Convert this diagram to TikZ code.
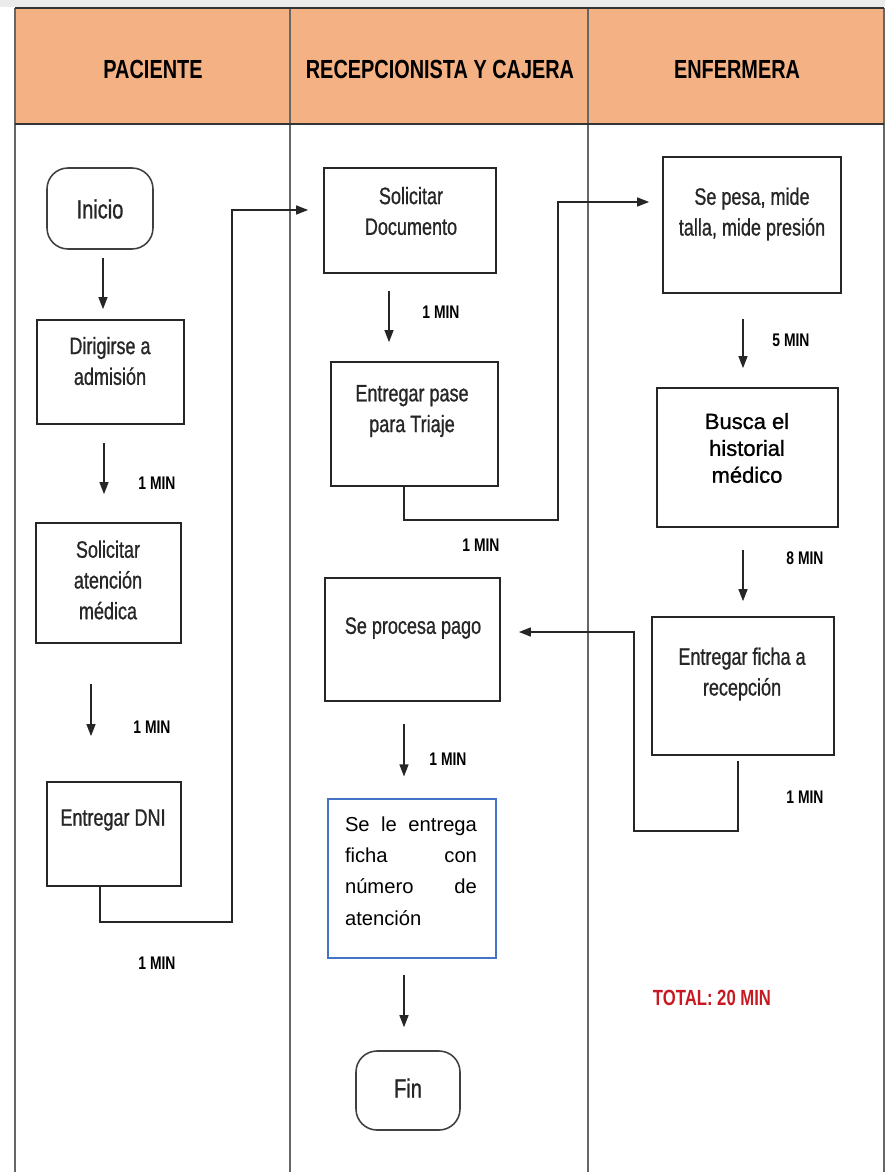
\documentclass[tikz,border=0pt]{standalone}
\usepackage{fontspec}
\setmainfont{Liberation Sans}
\newfontfamily\narrowfont[FakeStretch=0.76]{Liberation Sans}
\newfontfamily\narrowboxfont[FakeStretch=0.76,FakeBold=0.9]{Liberation Sans}
\newfontfamily\heavyfont[FakeBold=1.1]{Liberation Sans}
\usetikzlibrary{arrows.meta,fit}
\definecolor{lanehead}{HTML}{F4B183}
\definecolor{totalred}{RGB}{200,25,35}
\definecolor{boxblue}{HTML}{4472C4}

\begin{document}
\begin{tikzpicture}[x=0.02cm,y=-0.02cm,
  lane/.style={draw=black!60, line width=1.2pt},
  rule/.style={draw=black!80, line width=1.2pt},
  procbox/.style={draw=black!85, line width=1pt, inner sep=0pt},
  termbox/.style={draw=black!75, line width=0.9pt, rounded corners=0.42cm, inner sep=0pt},
  boxtext/.style={font=\narrowboxfont\fontsize{13.5}{17.5}\selectfont, text=black!85, align=center, inner sep=0pt},
  termtext/.style={font=\narrowboxfont\fontsize{15}{18}\selectfont, text=black!85, inner sep=0pt},
  headtext/.style={font=\narrowfont\bfseries\fontsize{14.9}{17}\selectfont, inner sep=0pt},
  mintext/.style={font=\narrowfont\bfseries\fontsize{10.4}{12}\selectfont, inner sep=0pt},
  tip/.style={-{Triangle[length=0.24cm,width=0.18cm]}},
  arr/.style={draw=black!85, line width=0.7pt, tip},
  conn/.style={draw=black!85, line width=0.8pt},
]
\useasboundingbox (0,0) rectangle (885,1172);

% header band and swimlane rules
\fill[black!8] (0,0) rectangle (885,7);
\fill[lanehead] (15,8) rectangle (884,124);
\foreach \lx in {15,290,588,884} \draw[lane] (\lx,8) -- (\lx,1172);
\draw[rule] (15,8) -- (884,8);
\draw[rule] (15,124) -- (884,124);

\node[headtext] (h1) at (153,69) {PACIENTE};
\node[headtext] (h2) at (440,69) {RECEPCIONISTA Y CAJERA};
\node[headtext] (h3) at (737,69) {ENFERMERA};

% PACIENTE lane
\node[termbox, fit={(47,168) (153,249)}] (ini) {};
\node[termtext] (ini-t) at (100,209) {Inicio};
\node[procbox, fit={(37,320) (184,424)}] (dir) {};
\node[boxtext] (dir-t) at (110,361) {Dirigirse a\\admisión};
\node[procbox, fit={(36,523) (181,643)}] (sol) {};
\node[boxtext] (sol-t) at (108,580) {Solicitar\\atención\\médica};
\node[procbox, fit={(47,782) (181,886)}] (dni) {};
\node[boxtext] (dni-t) at (113,820) {Entregar DNI};

% RECEPCIONISTA Y CAJERA lane
\node[procbox, fit={(324,168) (496,273)}] (sdoc) {};
\node[boxtext] (sdoc-t) at (411,211) {Solicitar\\Documento};
\node[procbox, fit={(331,362) (498,486)}] (pase) {};
\node[boxtext] (pase-t) at (412,411) {Entregar pase\\para Triaje};
\node[procbox, fit={(325,578) (500,701)}] (pago) {};
\node[boxtext] (pago-t) at (413,628) {Se procesa pago};
\node[procbox, draw=boxblue, line width=0.6pt, fit={(328,799) (496,958)}] (entr) {};
\node[font=\fontsize{11.5}{17.9}\selectfont, text width=2.64cm, align=left, inner sep=0pt]
  (entr-t) at (411,871) {Se\hfill le\hfill entrega\\ficha\hfill con\\número\hfill de\\atención};
\node[termbox, fit={(356,1051) (460,1130)}] (fin) {};
\node[termtext] (fin-t) at (408,1088) {Fin};

% ENFERMERA lane
\node[procbox, fit={(663,157) (841,293)}] (pesa) {};
\node[boxtext] (pesa-t) at (752,214) {Se pesa, mide\\talla, mide presión};
\node[procbox, fit={(657,388) (838,527)}] (busca) {};
\node[font=\heavyfont\fontsize{12.5}{15.3}\selectfont, align=center, inner sep=0pt]
  (busca-t) at (747,448) {Busca el\\historial\\médico};
\node[procbox, fit={(652,617) (834,755)}] (ficha) {};
\node[boxtext] (ficha-t) at (742,674) {Entregar ficha a\\recepción};

% step durations
\node[mintext] (m1) at (157,483) {1 MIN};
\node[mintext] (m2) at (152,727) {1 MIN};
\node[mintext] (m3) at (157,963) {1 MIN};
\node[mintext] (m4) at (441,312) {1 MIN};
\node[mintext] (m5) at (481,545) {1 MIN};
\node[mintext] (m6) at (448,759) {1 MIN};
\node[mintext] (m7) at (791,340) {5 MIN};
\node[mintext] (m8) at (805,558) {8 MIN};
\node[mintext] (m9) at (805,797) {1 MIN};
\node[font=\narrowfont\bfseries\fontsize{12.5}{14}\selectfont, text=totalred, inner sep=0pt]
  (total) at (712,998) {TOTAL: 20 MIN};

% vertical guides for the straight arrows
\coordinate (a1) at (103,0);
\coordinate (a2) at (104,0);
\coordinate (a3) at (91,0);
\coordinate (a4) at (389,0);
\coordinate (a5) at (404,0);
\coordinate (a6) at (743,0);

\draw[arr, shorten <=0.16cm, shorten >=0.2cm] (ini.south -| a1) -- (dir.north -| a1);
\draw[arr, shorten <=0.36cm, shorten >=0.56cm] (dir.south -| a2) -- (sol.north -| a2);
\draw[arr, shorten <=0.8cm, shorten >=0.9cm] (sol.south -| a3) -- (dni.north -| a3);
\draw[arr, shorten <=0.34cm, shorten >=0.38cm] (sdoc.south -| a4) -- (pase.north -| a4);
\draw[arr, shorten <=0.44cm, shorten >=0.44cm] (pago.south -| a5) -- (entr.north -| a5);
\draw[arr, shorten <=0.32cm, shorten >=0.46cm] (entr.south -| a5) -- (fin.north -| a5);
\draw[arr, shorten <=0.5cm, shorten >=0.38cm] (pesa.south -| a6) -- (busca.north -| a6);
\draw[arr, shorten <=0.44cm, shorten >=0.3cm] (busca.south -| a6) -- (ficha.north -| a6);

% elbow connectors between lanes
\coordinate (k1a) at (100,922);
\coordinate (k1b) at (232,210);
\draw[conn, tip, shorten >=0.3cm] (dni.south -| k1a) -- (k1a) -| (k1b) -- (sdoc.west |- k1b);
\coordinate (k2a) at (404,520);
\coordinate (k2b) at (558,202);
\draw[conn, tip, shorten >=0.26cm] (pase.south -| k2a) -- (k2a) -| (k2b) -- (pesa.west |- k2b);
\coordinate (k3a) at (738,831);
\coordinate (k3b) at (634,632);
\draw[conn, tip, shorten <=0.1cm, shorten >=0.36cm] (ficha.south -| k3a) -- (k3a) -| (k3b) -- (pago.east |- k3b);
\end{tikzpicture}
\end{document}
